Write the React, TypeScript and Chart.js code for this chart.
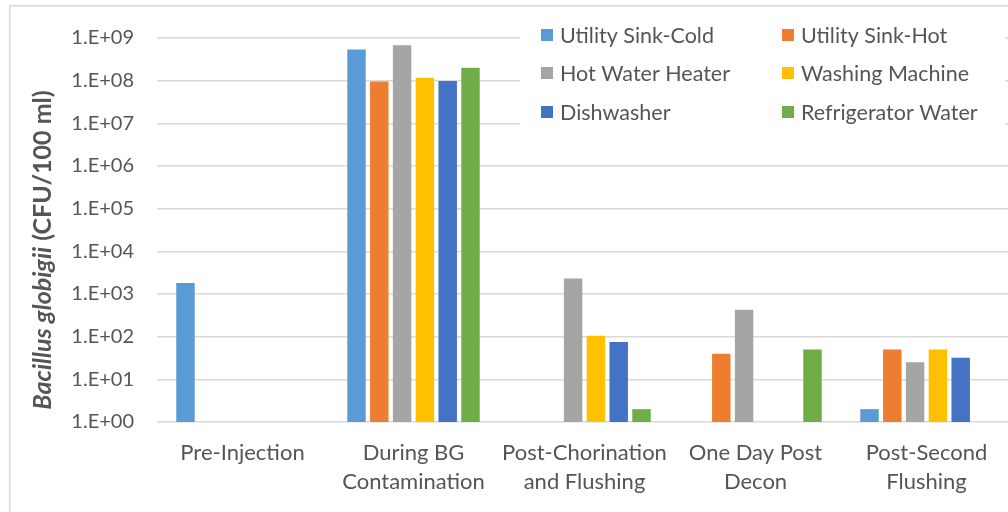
import React, { useEffect, useRef } from "react";
import { Chart, registerables } from "chart.js";

Chart.register(...registerables);

// Sampling stages along the x axis (multi-line labels)
const categories: string[][] = [
  ["Pre-Injection"],
  ["During BG", "Contamination"],
  ["Post-Chorination", "and Flushing"],
  ["One Day Post", "Decon"],
  ["Post-Second", "Flushing"],
];

const seriesNames = [
  "Utility Sink-Cold",
  "Utility Sink-Hot",
  "Hot Water Heater",
  "Washing Machine",
  "Dishwasher",
  "Refrigerator Water",
];

const seriesColors = ["#5B9BD5", "#ED7D31", "#A5A5A5", "#FFC000", "#4472C4", "#70AD47"];

// Bacillus globigii counts, CFU/100 ml (null = not detected)
const utilitySinkCold = [1800, 5.4e8, null, null, 2];
const utilitySinkHot = [null, 9.5e7, null, 40, 50];
const hotWaterHeater = [null, 6.8e8, 2300, 430, 25];
const washingMachine = [null, 1.17e8, 105, null, 50];
const dishwasher = [null, 9.8e7, 75, null, 32];
const refrigeratorWater = [null, 2.0e8, 2, 50, null];

const seriesValues = [
  utilitySinkCold,
  utilitySinkHot,
  hotWaterHeater,
  washingMachine,
  dishwasher,
  refrigeratorWater,
];

const yTickValues = [1, 1e1, 1e2, 1e3, 1e4, 1e5, 1e6, 1e7, 1e8, 1e9];
const yTickLabels = [
  "1.E+00",
  "1.E+01",
  "1.E+02",
  "1.E+03",
  "1.E+04",
  "1.E+05",
  "1.E+06",
  "1.E+07",
  "1.E+08",
  "1.E+09",
];

const FONT = "Lato, 'Open Sans', sans-serif";
const TEXT = "#555555";
const GRID = "#d9d9d9";

const CANVAS_W = 1030;
const CANVAS_H = 530;

// Outer frame, rotated axis title with mixed styles, and boxed legend
const decorPlugin = {
  id: "decor",
  beforeDraw(chart: any) {
    const ctx = chart.ctx;
    ctx.save();
    ctx.fillStyle = "#ffffff";
    ctx.fillRect(0, 0, chart.width, chart.height);
    ctx.strokeStyle = GRID;
    ctx.lineWidth = 1.5;
    ctx.strokeRect(9.75, 5.75, chart.width, chart.height);
    ctx.restore();
  },
  afterDraw(chart: any) {
    const ctx = chart.ctx;
    ctx.save();

    // y-axis title
    const partA = "Bacillus globigii";
    const partB = " (CFU/100 ml)";
    const fontA = `italic bold 25px ${FONT}`;
    const fontB = `bold 25px ${FONT}`;
    ctx.font = fontA;
    const wA = ctx.measureText(partA).width;
    ctx.font = fontB;
    const wB = ctx.measureText(partB).width;
    const cy = 250;
    ctx.translate(43, cy);
    ctx.rotate(-Math.PI / 2);
    ctx.fillStyle = TEXT;
    ctx.textBaseline = "middle";
    ctx.textAlign = "left";
    const start = -(wA + wB) / 2;
    ctx.font = fontA;
    ctx.fillText(partA, start, 0);
    ctx.font = fontB;
    ctx.fillText(partB, start + wA, 0);
    ctx.restore();

    // legend box
    ctx.save();
    ctx.fillStyle = "#ffffff";
    ctx.fillRect(520, 14, 485, 116);
    const colX = [541, 782];
    const rowY = [35, 73, 112];
    ctx.font = `21.5px ${FONT}`;
    ctx.textBaseline = "middle";
    ctx.textAlign = "left";
    seriesNames.forEach((name, i) => {
      const col = i % 2;
      const row = Math.floor(i / 2);
      const x = colX[col];
      const y = rowY[row];
      ctx.fillStyle = seriesColors[i];
      ctx.fillRect(x, y - 6, 12, 12);
      ctx.fillStyle = TEXT;
      ctx.fillText(name, x + 19, y + 1);
    });
    ctx.restore();
  },
};

export default function App() {
  const canvasRef = useRef<HTMLCanvasElement | null>(null);

  useEffect(() => {
    if (!canvasRef.current) return;
    const chart = new Chart(canvasRef.current, {
      type: "bar",
      data: {
        labels: categories,
        datasets: seriesNames.map((name, i) => ({
          label: name,
          data: seriesValues[i],
          backgroundColor: seriesColors[i],
          borderWidth: 0,
          categoryPercentage: 0.8,
          barPercentage: 0.81,
        })),
      },
      options: {
        responsive: false,
        animation: false,
        devicePixelRatio: 1,
        layout: { padding: { left: 0, top: 38, right: 18, bottom: 0 } },
        plugins: {
          legend: { display: false },
          tooltip: { enabled: false },
          title: { display: false },
        },
        scales: {
          x: {
            grid: { display: false, drawTicks: false },
            border: { display: false },
            ticks: {
              color: TEXT,
              font: { family: FONT, size: 22, lineHeight: 1.33 },
              padding: 16,
              maxRotation: 0,
              autoSkip: false,
            },
            afterFit(scale: any) {
              scale.height = CANVAS_H - 422;
            },
          },
          y: {
            type: "logarithmic",
            min: 1,
            max: 1e9,
            grid: { color: GRID, lineWidth: 1.5, drawTicks: false },
            border: { display: false },
            ticks: {
              color: TEXT,
              font: { family: FONT, size: 20 },
              padding: 23,
              callback: (_v: any, index: number) => yTickLabels[index],
            },
            afterBuildTicks(scale: any) {
              scale.ticks = yTickValues.map((v) => ({ value: v, major: true }));
            },
            afterFit(scale: any) {
              scale.width = 157;
            },
          },
        },
      },
      plugins: [decorPlugin],
    });
    return () => chart.destroy();
  }, []);

  return (
    <div
      style={{
        position: "fixed",
        left: 0,
        top: 0,
        width: 1008,
        height: 512,
        overflow: "hidden",
        background: "#ffffff",
      }}
    >
      <canvas ref={canvasRef} width={CANVAS_W} height={CANVAS_H} style={{ display: "block" }} />
    </div>
  );
}
